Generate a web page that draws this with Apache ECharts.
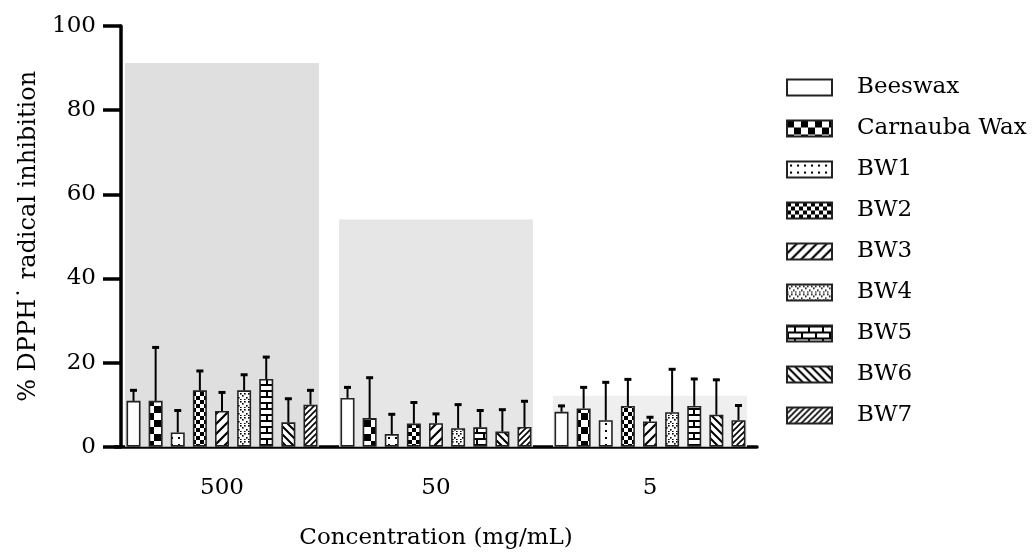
<!DOCTYPE html>
<html>
<head>
    <meta charset="utf-8">
    <title>DPPH radical inhibition</title>
    <script src="https://cdn.jsdelivr.net/npm/echarts@6/dist/echarts.min.js"></script>
    <style>
        html, body { margin: 0; padding: 0; background: #fff; }
    </style>
</head>
<body>
    <div id="main" style="width: 1032px;height:552px;"></div>
    <script type="text/javascript">

    // ----- data
    var categories = ['500', '50', '5'];
    var seriesNames = ['Beeswax', 'Carnauba Wax', 'BW1', 'BW2', 'BW3', 'BW4', 'BW5', 'BW6', 'BW7'];
    // mean per series, in order 500 / 50 / 5 mg/mL
    var meanValues = [
        [10.9, 11.6, 8.3],
        [10.9, 6.8, 9.1],
        [3.4, 3.0, 6.3],
        [13.4, 5.5, 9.7],
        [8.5, 5.6, 6.0],
        [13.4, 4.4, 8.2],
        [16.1, 4.6, 9.7],
        [5.8, 3.6, 7.6],
        [10.0, 4.7, 6.3]
    ];
    // SD (upper error bar only)
    var sdValues = [
        [2.5, 2.5, 1.4],
        [12.7, 9.6, 5.0],
        [5.2, 4.7, 9.0],
        [4.6, 5.0, 6.3],
        [4.4, 2.2, 1.0],
        [3.7, 5.6, 10.2],
        [5.2, 4.0, 6.4],
        [5.6, 5.2, 8.3],
        [3.4, 6.1, 3.5]
    ];
    // grey reference bars behind each group
    var referenceValues = [91.2, 54.0, 12.1];
    var referenceColors = ['#dfdfdf', '#e6e6e6', '#efefef'];
    var yTicks = [0, 20, 40, 60, 80, 100];

    var FONT = 'DejaVu Serif';
    var BAR_W = 14;
    var BAR_GAP = 0.58;

    // ----- fill patterns
    function makeCanvas(w, h) {
        var c = document.createElement('canvas');
        c.width = w; c.height = h;
        var ctx = c.getContext('2d');
        ctx.fillStyle = '#fff';
        ctx.fillRect(0, 0, w, h);
        ctx.fillStyle = '#000';
        ctx.strokeStyle = '#000';
        return { c: c, ctx: ctx };
    }
    function checker(size) {
        var p = makeCanvas(size * 2, size * 2);
        p.ctx.fillRect(0, 0, size, size);
        p.ctx.fillRect(size, size, size, size);
        return p.c;
    }
    function diag(size, width, dir) {
        var p = makeCanvas(size, size);
        var ctx = p.ctx;
        ctx.lineWidth = width;
        ctx.lineCap = 'square';
        ctx.beginPath();
        if (dir > 0) { // "/"
            ctx.moveTo(-1, size + 1); ctx.lineTo(size + 1, -1);
            ctx.moveTo(-1, 1); ctx.lineTo(1, -1);
            ctx.moveTo(size - 1, size + 1); ctx.lineTo(size + 1, size - 1);
        } else { // "\"
            ctx.moveTo(-1, -1); ctx.lineTo(size + 1, size + 1);
            ctx.moveTo(size - 1, -1); ctx.lineTo(size + 1, 1);
            ctx.moveTo(-1, size - 1); ctx.lineTo(1, size + 1);
        }
        ctx.stroke();
        return p.c;
    }
    function dots(w, h, pts, r) {
        var p = makeCanvas(w, h);
        pts.forEach(function (pt) { p.ctx.fillRect(pt[0], pt[1], r, r); });
        return p.c;
    }
    function brick() {
        var p = makeCanvas(14, 12);
        var ctx = p.ctx;
        ctx.fillRect(0, 0, 14, 2);
        ctx.fillRect(0, 6, 14, 2);
        ctx.fillRect(7, 0, 2, 6);
        ctx.fillRect(0, 6, 2, 6);
        return p.c;
    }
    function plain() {
        return makeCanvas(4, 4).c;
    }

    var patterns = [
        plain(),
        checker(7),
        dots(7, 7, [[3, 3]], 2),
        checker(4),
        diag(10, 2.2, 1),
        dots(8, 8, [[0, 1], [4, 1], [2, 3], [6, 5], [0, 7], [4, 7]], 1.6),
        brick(),
        diag(8, 2, -1),
        diag(6, 1.6, 1)
    ];

    var myChart = echarts.init(document.getElementById('main'));

    var barSeries = seriesNames.map(function (name, i) {
        return {
            name: name,
            type: 'bar',
            xAxisIndex: 1,
            barWidth: BAR_W,
            barGap: (BAR_GAP * 100) + '%',
            z: 3,
            itemStyle: {
                color: { image: patterns[i], repeat: 'repeat' },
                borderColor: '#222',
                borderWidth: 1.6
            },
            data: meanValues[i]
        };
    });

    var errData = [];
    seriesNames.forEach(function (name, s) {
        categories.forEach(function (c, k) {
            errData.push([k, meanValues[s][k], meanValues[s][k] + sdValues[s][k], s]);
        });
    });

    var option = {
        animation: false,
        textStyle: { fontFamily: FONT },
        grid: { left: 115, top: 26, width: 642, bottom: 105.3, outerBoundsMode: 'none', containLabel: false },
        legend: {
            orient: 'vertical',
            left: 781,
            top: 71,
            data: seriesNames,
            itemWidth: 45,
            itemHeight: 16,
            itemGap: 18,
            icon: 'rect',
            textStyle: {
                fontFamily: FONT, fontSize: 23, color: '#000',
                lineHeight: 23, padding: [0, 0, 0, 20]
            }
        },
        xAxis: [{
            type: 'category',
            data: categories,
            name: 'Concentration (mg/mL)',
            nameLocation: 'middle',
            nameGap: 80,
            nameTextStyle: { fontFamily: FONT, fontSize: 23, color: '#000' },
            axisLine: { lineStyle: { color: '#000', width: 3.5 } },
            axisTick: { alignWithLabel: true, length: 12, lineStyle: { color: '#000', width: 3.5 } },
            axisLabel: { fontFamily: FONT, fontSize: 23, color: '#000', margin: 30 }
        }, {
            type: 'category',
            data: categories,
            show: false
        }],
        yAxis: {
            type: 'value',
            min: 0,
            max: 100,
            interval: 20,
            offset: -6,
            name: '% DPPH˙ radical inhibition',
            nameLocation: 'middle',
            nameGap: 69,
            nameTextStyle: { fontFamily: FONT, fontSize: 24, color: '#000' },
            splitLine: { show: false },
            axisLine: { show: true, lineStyle: { color: '#000', width: 3.5 } },
            axisTick: { show: true, length: 18, lineStyle: { color: '#000', width: 3.5 } },
            axisLabel: {
                fontFamily: FONT, fontSize: 23, color: '#000', margin: 25,
                formatter: function (v) { return yTicks.indexOf(v) >= 0 ? String(v) : ''; }
            }
        },
        series: [{
            name: 'reference',
            type: 'bar',
            xAxisIndex: 0,
            barWidth: '90.6%',
            z: 1,
            silent: true,
            data: referenceValues.map(function (v, i) {
                return { value: v, itemStyle: { color: referenceColors[i] } };
            })
        }].concat(barSeries).concat([{
            name: 'error',
            type: 'custom',
            xAxisIndex: 1,
            z: 4,
            silent: true,
            encode: { x: 0, y: [1, 2] },
            renderItem: function (params, api) {
                var off = (api.value(3) - 4) * BAR_W * (1 + BAR_GAP);
                var lo = api.coord([api.value(0), api.value(1)]);
                var hi = api.coord([api.value(0), api.value(2)]);
                var x = lo[0] + off;
                return {
                    type: 'group',
                    children: [{
                        type: 'line',
                        shape: { x1: x, y1: lo[1], x2: x, y2: hi[1] },
                        style: { stroke: '#000', lineWidth: 2 }
                    }, {
                        type: 'line',
                        shape: { x1: x - 3.5, y1: hi[1], x2: x + 3.5, y2: hi[1] },
                        style: { stroke: '#000', lineWidth: 3 }
                    }]
                };
            },
            data: errData
        }])
    };

    myChart.setOption(option);
    </script>
</body>
</html>
